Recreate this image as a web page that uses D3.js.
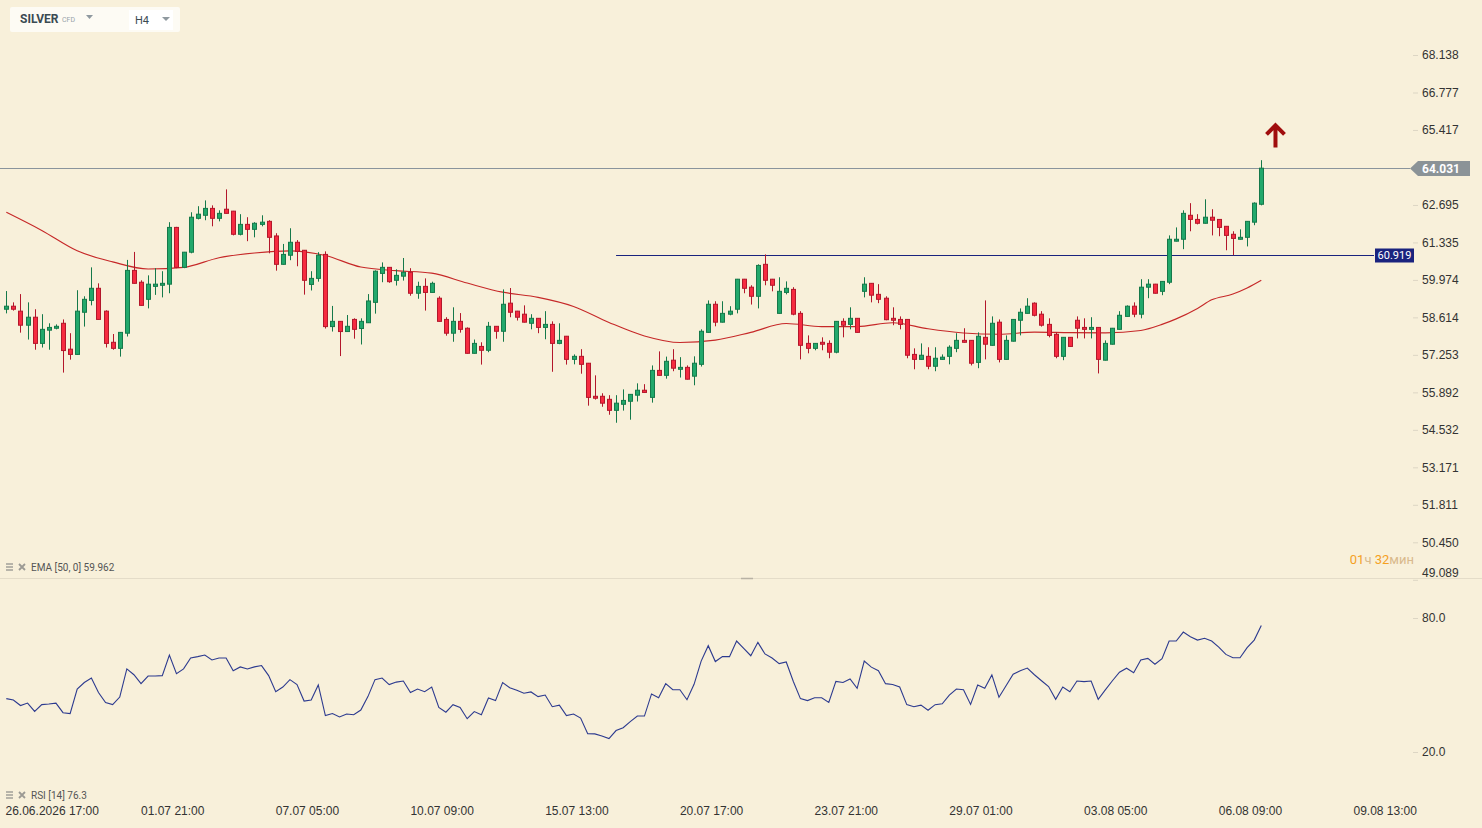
<!DOCTYPE html>
<html>
<head>
<meta charset="utf-8">
<script src="https://cdn.jsdelivr.net/npm/d3@7"></script>
<style>
  html, body { margin: 0; padding: 0; background: #f8f0da; }
  svg { display: block; font-family: Roboto, "Noto Sans", sans-serif; }
</style>
</head>
<body>
<svg id="chart" width="1482" height="828"></svg>
<script>
// SILVER CFD, H4 candles
const opens = [58.91,59.02,58.84,58.33,58.62,57.67,58.15,58.22,58.40,57.46,
57.27,58.80,59.23,59.67,58.84,57.71,57.49,58.04,60.32,59.89,
59.27,59.74,59.78,59.82,61.88,60.43,60.98,62.21,62.32,62.57,
62.21,62.54,62.47,61.63,61.99,61.81,61.99,62.10,61.57,60.54,
60.87,61.34,61.05,59.81,60.03,60.90,58.28,58.47,58.10,58.54,
58.21,58.42,59.16,60.21,60.43,59.96,60.11,60.25,59.49,59.74,
59.52,59.31,58.54,58.04,58.47,58.22,57.31,57.56,57.42,58.29,
58.11,59.13,58.84,58.73,58.40,58.58,58.25,58.36,57.67,57.93,
57.09,57.20,56.95,55.75,55.75,55.64,55.24,55.46,55.57,55.79,
55.97,55.71,56.69,56.51,57.06,56.73,56.80,56.48,56.91,58.07,
59.09,58.44,58.73,58.91,60.00,59.71,59.38,60.54,60.00,58.76,
59.52,59.63,58.76,57.67,57.49,57.71,57.67,57.35,58.47,58.36,
58.58,59.56,59.85,59.45,59.31,58.58,58.54,58.54,57.27,57.09,
57.20,56.84,57.09,57.20,57.49,57.78,57.78,56.98,57.89,57.60,
58.44,57.09,57.75,58.51,58.76,59.13,58.73,58.36,58.00,57.20,
57.89,58.51,58.25,58.18,58.25,57.06,57.64,58.18,58.65,59.02,
58.73,59.71,59.82,59.56,59.89,61.38,61.45,62.32,62.17,62.03,
62.25,62.17,61.92,61.63,61.45,61.52,62.07,62.72];

const highs = [59.57,59.16,59.46,59.16,58.91,58.73,58.40,58.36,58.54,58.04,
59.60,59.38,60.43,59.85,58.87,58.01,58.08,60.70,60.99,59.96,
60.14,60.40,60.29,62.07,61.90,60.99,62.43,62.65,62.86,62.68,
62.50,63.26,62.48,62.36,62.25,62.07,62.32,62.14,61.67,61.28,
61.85,61.42,61.06,60.29,60.98,61.01,59.03,58.48,58.70,58.58,
58.58,59.46,60.32,60.61,60.44,60.36,60.77,60.40,59.91,60.03,
59.91,59.38,58.62,58.98,58.77,58.25,57.81,57.71,58.45,58.30,
59.63,59.68,58.85,59.05,58.73,58.59,58.84,58.47,58.40,57.94,
57.27,57.46,56.96,56.51,55.86,55.79,55.79,56.00,55.83,56.22,
56.19,56.87,57.38,57.19,57.46,57.17,56.87,57.20,58.18,59.23,
59.20,59.20,59.02,60.01,60.01,59.78,60.54,60.90,60.01,60.07,
59.92,59.71,58.84,57.96,57.68,57.89,57.78,58.48,58.58,58.98,
58.59,60.07,59.86,59.82,59.38,58.98,58.65,58.55,57.49,57.67,
57.53,57.53,57.27,57.60,58.04,58.22,57.79,58.07,59.23,58.65,
58.54,57.96,58.55,58.94,59.31,59.16,58.84,58.58,58.07,57.90,
57.90,58.65,58.58,58.62,58.26,57.78,58.23,58.84,59.05,59.16,
60.00,60.00,59.83,59.93,61.59,61.88,62.50,62.76,62.36,62.90,
62.54,62.18,61.93,61.74,61.81,62.11,62.79,64.32];

const lows = [58.76,58.86,58.06,57.81,57.44,57.52,57.44,58.18,56.61,57.08,
57.25,58.28,59.05,58.52,57.52,57.44,57.19,57.92,59.84,59.04,
58.94,59.43,59.34,59.49,60.40,60.40,60.94,62.17,62.14,61.92,
62.10,62.38,61.59,61.59,61.38,61.52,61.92,60.94,60.31,60.53,
60.69,60.47,59.44,59.59,59.91,58.21,58.10,57.21,58.09,57.84,
57.63,58.41,58.75,59.89,59.87,59.77,59.95,59.40,59.29,58.86,
59.51,58.46,57.95,57.73,58.06,57.30,57.30,56.90,57.35,57.84,
57.73,58.62,58.50,58.43,58.18,58.04,57.82,56.64,57.64,56.90,
56.91,56.57,55.41,55.63,55.37,55.08,54.79,55.23,54.90,55.56,
55.88,55.52,56.50,56.39,56.66,56.43,56.36,56.15,56.83,58.06,
58.29,58.43,58.69,58.76,59.49,59.08,58.94,59.78,59.56,58.75,
59.45,58.69,57.09,57.31,57.42,57.42,57.13,57.31,57.89,58.18,
58.06,59.34,59.16,59.13,58.51,58.33,58.18,57.13,56.73,57.08,
56.73,56.66,57.08,56.91,57.35,57.70,56.87,56.77,57.09,57.59,
56.98,57.08,57.74,57.96,58.75,58.65,58.28,57.89,57.13,57.06,
57.55,57.85,57.85,57.85,56.58,57.05,57.63,58.17,58.64,58.62,
58.58,59.31,59.48,59.42,59.82,61.37,61.09,61.74,61.99,62.02,
61.59,61.56,61.05,60.87,61.44,61.19,61.96,62.68];

const closes = [59.02,58.91,58.33,58.62,57.67,58.18,58.25,58.29,57.41,57.27,
58.84,59.27,59.67,58.54,57.67,57.49,58.07,60.32,59.85,59.05,
59.82,59.82,59.85,61.88,60.43,60.98,62.25,62.36,62.57,62.21,
62.39,62.39,61.63,61.99,61.81,62.03,62.07,61.52,60.54,60.90,
61.34,61.01,59.96,60.03,60.87,58.28,58.47,58.10,58.29,58.18,
58.47,59.21,60.29,60.43,59.91,60.14,60.25,59.49,59.74,59.52,
59.85,58.47,58.04,58.47,58.18,57.31,57.67,57.42,58.29,58.11,
59.09,58.80,58.62,58.44,58.58,58.25,58.36,57.67,57.78,57.09,
57.20,56.91,55.71,55.68,55.50,55.24,55.50,55.60,55.82,55.97,
55.89,56.69,56.51,57.02,56.77,56.80,56.37,56.95,58.11,59.09,
58.44,58.76,58.84,60.00,59.67,59.38,60.50,59.96,59.78,59.56,
59.67,58.73,57.60,57.49,57.67,57.64,57.35,58.47,58.33,58.58,
58.07,59.82,59.42,59.27,58.53,58.51,58.36,57.24,57.09,57.24,
56.84,57.13,57.17,57.53,57.78,57.71,56.95,57.93,57.64,58.40,
57.09,57.78,58.54,58.80,59.02,58.69,58.33,57.96,57.20,57.89,
57.56,58.22,58.18,58.25,57.09,57.67,58.22,58.69,59.02,58.73,
59.71,59.82,59.49,59.92,61.45,61.45,62.39,62.17,62.03,62.25,
62.14,61.88,61.59,61.48,61.52,62.10,62.76,64.03];

// EMA [50] read at some candle indices
const emaIdx = [0,5,10,15,20,25,30,35,40,45,50,55,60,65,70,75,80,85,90,95,100,
105,110,115,120,125,130,135,140,145,150,155,160,163,165,168,170,173,175,177];
const emaVal = [62.43,61.77,61.03,60.63,60.37,60.43,60.78,60.95,61.03,60.86,60.44,
60.31,60.22,59.86,59.53,59.34,59.01,58.43,57.94,57.70,57.79,58.07,58.39,58.28,
58.28,58.42,58.20,58.05,58.00,58.08,58.06,58.05,58.14,58.36,58.56,58.94,59.25,
59.46,59.68,59.96];

// RSI [14], one value per candle
const rsi = [43.9,43.3,40.8,41.9,38.2,41.2,41.5,41.9,37.6,37.2,
48.2,51.1,53.1,46.6,42.1,41.2,44.6,57.2,54.6,50.6,
54.0,54.0,54.2,63.4,55.1,57.2,62.1,62.7,63.4,61.2,
62.1,62.1,56.4,58.1,57.2,58.1,58.7,54.2,47.0,49.1,
52.4,50.2,42.8,43.3,50.0,36.3,37.2,35.7,37.0,36.7,
38.8,44.8,52.4,53.1,50.2,51.3,51.8,46.6,48.2,47.0,
49.1,40.0,37.8,41.2,39.9,34.9,38.1,36.7,44.2,43.0,
51.1,48.8,47.6,46.3,46.9,44.8,45.5,40.3,41.0,36.3,
37.0,35.2,28.2,28.1,27.2,26.0,29.6,30.9,33.6,36.1,
36.1,46.0,44.3,50.6,47.9,47.9,43.4,50.3,60.7,67.6,
60.5,62.7,62.7,69.7,66.4,63.1,69.1,63.9,62.1,59.6,
60.3,51.6,43.9,43.0,44.3,44.3,42.2,51.6,51.1,52.7,
48.5,60.7,58.0,56.4,50.6,50.2,49.1,41.2,40.3,41.0,
38.7,41.2,41.6,45.5,48.2,47.9,41.3,50.0,48.5,54.5,
44.5,49.7,54.8,56.4,57.6,54.6,51.9,49.3,43.6,49.1,
47.0,51.8,51.5,51.8,43.6,47.8,51.9,55.7,57.5,55.5,
61.2,61.9,59.3,61.8,69.7,69.7,73.7,71.6,70.1,70.9,
69.7,67.0,63.7,62.2,62.2,66.7,70.1,76.6];

const priceTicks = [68.138,66.777,65.417,62.695,61.335,59.974,58.614,57.253,55.892,54.532,53.171,51.811,50.450,49.089];
const rsiTicks = [80, 20];
const dateIdx = [4.4,23.4,42.4,61.4,80.4,99.4,118.4,137.4,156.4,175.4,194.4];
const dateLabels = ['26.06.2026 17:00','01.07 21:00','07.07 05:00','10.07 09:00','15.07 13:00',
  '20.07 17:00','23.07 21:00','29.07 01:00','03.08 05:00','06.08 09:00','09.08 13:00'];

const lastPrice = 64.031;
const levelPrice = 60.919, levelFrom = 86, levelTo = 192.9;
const signalIdx = 179, signalPrice = 65.22;
const emaLast = 59.962, rsiLast = 76.3;

const W = 1482, H = 828;
const svg = d3.select('#chart');
svg.append('rect').attr('width', W).attr('height', H).attr('fill', '#f8f0da');

const x = d3.scaleLinear().domain([0, 177]).range([6.3, 1261.3]);
const y = d3.scaleLinear().domain([49.089, 68.138]).range([579.8, 55]);
const yr = d3.scaleLinear().domain([20, 80]).range([752, 618]);
const crisp = v => Math.round(v) + 0.5;

// pane separator
svg.append('line').attr('x1', 0).attr('x2', W).attr('y1', 578.5).attr('y2', 578.5)
  .attr('stroke', '#e4dcc8');
svg.append('line').attr('x1', 741).attr('x2', 753).attr('y1', 578.5).attr('y2', 578.5)
  .attr('stroke', '#b8b2a4').attr('stroke-width', 1.5);

// price axis
const gy = svg.append('g').attr('transform', 'translate(1413,0)')
  .call(d3.axisRight(y).tickValues(priceTicks).tickFormat(d3.format('.3f')).tickSize(5).tickPadding(4));
gy.select('.domain').remove();
gy.selectAll('line').attr('stroke', '#ddd6c4');
gy.selectAll('text').attr('fill', '#333').style('font-size', '12px');
gy.selectAll('.tick').filter(d => y(d) > 574).select('text').attr('y', -7);

// rsi axis
const gr = svg.append('g').attr('transform', 'translate(1413,0)')
  .call(d3.axisRight(yr).tickValues(rsiTicks).tickFormat(d3.format('.1f')).tickSize(5).tickPadding(4));
gr.select('.domain').remove();
gr.selectAll('line').attr('stroke', '#ddd6c4');
gr.selectAll('text').attr('fill', '#333').style('font-size', '12px');

// date axis
const gx = svg.append('g').attr('transform', 'translate(0,806)')
  .call(d3.axisBottom(x).tickValues(dateIdx).tickFormat((d, i) => dateLabels[i]).tickSize(0).tickPadding(0));
gx.select('.domain').remove();
gx.selectAll('text').attr('fill', '#333').style('font-size', '12px');
gx.selectAll('.tick').filter((d, i) => i === 0).select('text')
  .attr('text-anchor', 'start').attr('x', 5 - x(dateIdx[0]));

// EMA line
const emaPts = emaIdx.map((d, i) => [d, emaVal[i]]);
svg.append('path').datum(emaPts)
  .attr('fill', 'none').attr('stroke', '#c62828').attr('stroke-width', 1.1)
  .attr('d', d3.line().x(d => x(d[0])).y(d => y(d[1])).curve(d3.curveMonotoneX));

// horizontal level
const lv = crisp(y(levelPrice) + 1);
svg.append('line').attr('x1', x(levelFrom)).attr('x2', x(levelTo))
  .attr('y1', lv).attr('y2', lv)
  .attr('stroke', '#1a237e').attr('stroke-width', 1);
svg.append('rect').attr('x', 1375).attr('y', lv - 7).attr('width', 39).attr('height', 14)
  .attr('fill', '#1a237e');
svg.append('text').attr('x', 1394.5).attr('y', lv).attr('dy', '0.35em')
  .attr('text-anchor', 'middle').attr('fill', '#fff').style('font-size', '11px').text(levelPrice.toFixed(3));

// last price line
const ly = crisp(y(lastPrice));
svg.append('line').attr('x1', 0).attr('x2', 1410).attr('y1', ly).attr('y2', ly)
  .attr('stroke', '#8a949c').attr('stroke-width', 1);
svg.append('path').attr('fill', '#8b9397')
  .attr('d', `M1410,${ly} L1418,${ly - 7.5} L1470,${ly - 7.5} L1470,${ly + 7.5} L1418,${ly + 7.5} Z`);
svg.append('text').attr('x', 1422).attr('y', ly).attr('dy', '0.35em').attr('fill', '#fff')
  .attr('font-weight', 'bold').style('font-size', '12px').text(lastPrice.toFixed(3));

// candles
const candles = closes.map((c, i) => ({ i, o: opens[i], h: highs[i], l: lows[i], c }));
const up = d => d.c >= d.o;
const g = svg.append('g');
g.selectAll('line.wick').data(candles).enter().append('line')
  .attr('class', 'wick')
  .attr('x1', d => crisp(x(d.i))).attr('x2', d => crisp(x(d.i)))
  .attr('y1', d => y(d.h)).attr('y2', d => y(d.l))
  .attr('stroke', d => up(d) ? '#15794a' : '#b3172b').attr('stroke-width', 1);
g.selectAll('rect.body').data(candles).enter().append('rect')
  .attr('class', 'body')
  .attr('x', d => Math.round(x(d.i)) - 1.5).attr('width', 4)
  .attr('y', d => y(Math.max(d.o, d.c)))
  .attr('height', d => Math.max(1, Math.abs(y(d.o) - y(d.c))))
  .attr('fill', d => up(d) ? '#22a86b' : '#f62b40')
  .attr('stroke', d => up(d) ? '#15794a' : '#b3172b').attr('stroke-width', 1);

// signal arrow
const sx = x(signalIdx), sy = y(signalPrice);
svg.append('path').attr('transform', `translate(${sx},${sy})`)
  .attr('d', 'M-9,-1 L0,-10 L9,-1 M0,-10 L0,12')
  .attr('fill', 'none').attr('stroke', '#a00d0d').attr('stroke-width', 4)
  .attr('stroke-linejoin', 'miter');

// RSI line
svg.append('path').datum(rsi)
  .attr('fill', 'none').attr('stroke', '#2c3a8f').attr('stroke-width', 1.1)
  .attr('d', d3.line().x((d, i) => x(i)).y(d => yr(d)));

// indicator labels
function indLabel(yy, txt) {
  const gl = svg.append('g').attr('fill', '#9c9a94');
  [-3, 0, 3].forEach(dy => gl.append('rect').attr('x', 6).attr('y', yy + dy - 0.7).attr('width', 7).attr('height', 1.4));
  gl.append('path').attr('d', `M19,${yy - 3} L25,${yy + 3} M25,${yy - 3} L19,${yy + 3}`)
    .attr('stroke', '#9c9a94').attr('stroke-width', 1.8);
  svg.append('text').attr('x', 31).attr('y', yy).attr('dy', '0.35em').attr('fill', '#555')
    .style('font-size', '10px').text(txt);
}
indLabel(567, `EMA [50, 0] ${emaLast.toFixed(3)}`);
indLabel(795, `RSI [14] ${rsiLast.toFixed(1)}`);

// time to candle close
const tl = svg.append('text').attr('x', 1414).attr('y', 559).attr('dy', '0.35em')
  .attr('text-anchor', 'end').style('font-size', '13px');
tl.append('tspan').attr('fill', '#f5a01f').text('01');
tl.append('tspan').attr('fill', '#d9b98c').text('ч ');
tl.append('tspan').attr('fill', '#f5a01f').text('32');
tl.append('tspan').attr('fill', '#d9b98c').text('мин');

// header
const hd = svg.append('g');
hd.append('rect').attr('x', 10).attr('y', 7).attr('width', 170).attr('height', 25).attr('rx', 2)
  .attr('fill', '#fdfbf4');
hd.append('rect').attr('x', 129).attr('y', 10).attr('width', 44).attr('height', 20).attr('fill', '#ffffff');
hd.append('text').attr('x', 20).attr('y', 23).attr('font-weight', 'bold').attr('fill', '#3b4a52')
  .style('font-size', '12px').text('SILVER');
hd.append('text').attr('x', 62).attr('y', 22).attr('fill', '#98a3aa').style('font-size', '7px').text('CFD');
hd.append('path').attr('d', 'M86,15 L93,15 L89.5,19 Z').attr('fill', '#8f999f');
hd.append('text').attr('x', 135).attr('y', 24).attr('fill', '#3b4a52').style('font-size', '11px').text('H4');
hd.append('path').attr('d', 'M162,17 L170,17 L166,21 Z').attr('fill', '#8f999f');
</script>
</body>
</html>
